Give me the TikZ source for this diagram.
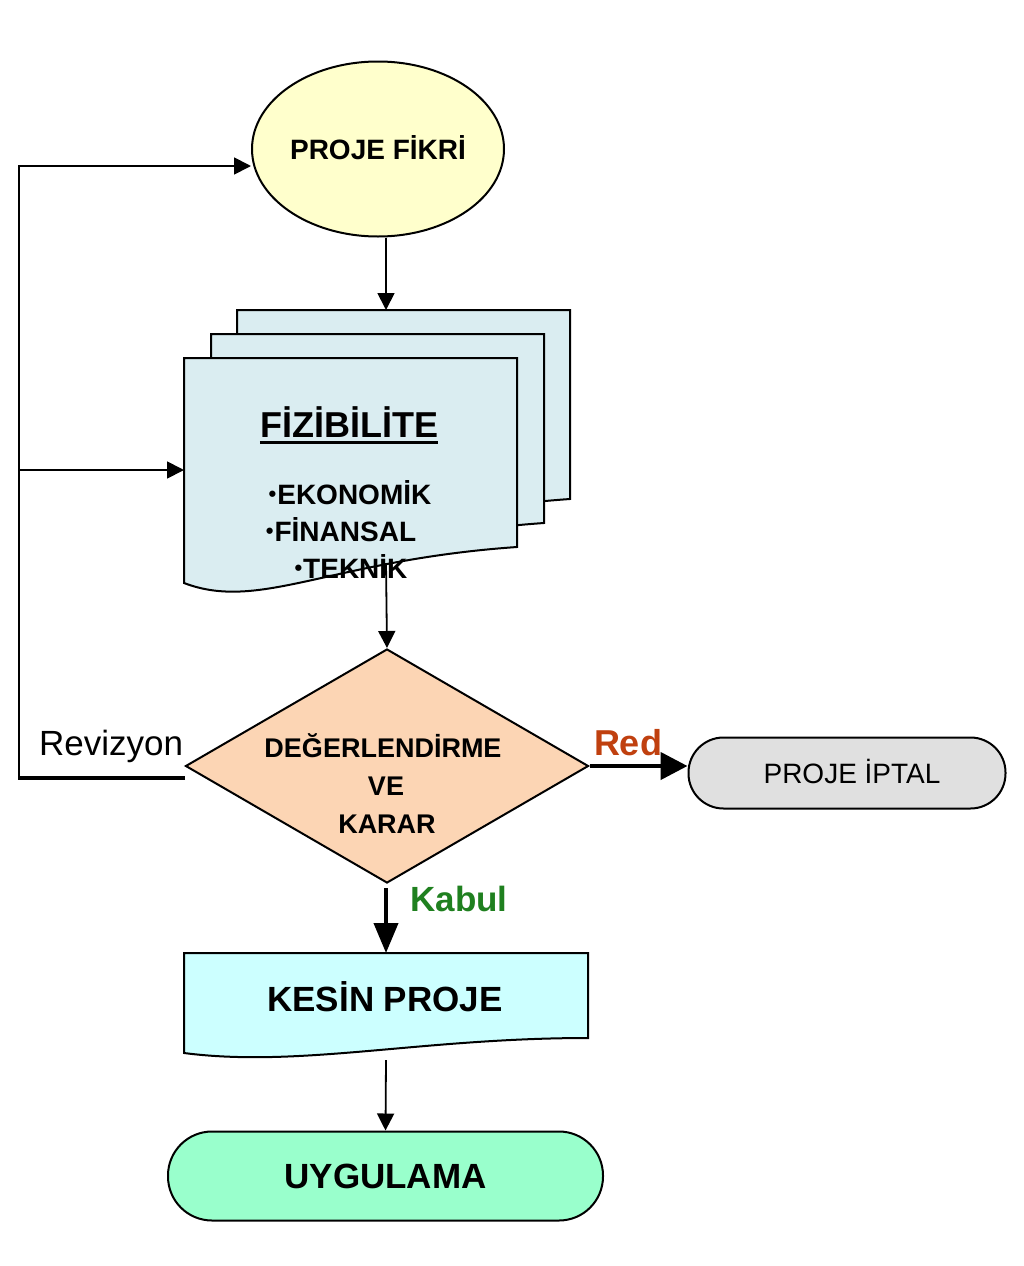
\documentclass[tikz,border=0pt]{standalone}
\usepackage{fontspec}
\setmainfont{Liberation Sans}
\usetikzlibrary{shapes.geometric,arrows.meta}
\definecolor{ideacol}{HTML}{FFFFCC}
\definecolor{pagecol}{HTML}{DAEDF1}
\definecolor{deccol}{HTML}{FCD5B4}
\definecolor{iptalcol}{HTML}{E0E0E0}
\definecolor{kesincol}{HTML}{CCFFFF}
\definecolor{uygcol}{HTML}{99FFCC}
\definecolor{redcol}{HTML}{C0400F}
\definecolor{kabulcol}{HTML}{1F801F}
\newcommand{\smbul}{\raisebox{3pt}{\fontsize{22}{22}\selectfont•}\hspace{1pt}}
\begin{document}
\begin{tikzpicture}[x=1pt,y=-1pt,
  conn/.style={line width=1.8pt},
  arr/.style={conn,-{Triangle[length=17pt,width=17pt]}},
  bigarr/.style={line width=4.5pt,-{Triangle[length=27pt,width=27pt]}},
  outl/.style={draw=black,line width=2pt},
  lbl/.style={inner sep=0pt,anchor=base},
  bf/.style={font=\fontsize{#1}{#1}\selectfont\bfseries},
  rg/.style={font=\fontsize{#1}{#1}\selectfont},
]
\fill[white] (0,0) rectangle (1024,1266);
\useasboundingbox (0,0) rectangle (1024,1266);

% PROJE FIKRI
\node[ellipse, outl, fill=ideacol, minimum width=252pt, minimum height=175pt,
      inner sep=0pt, bf=28, text height=20pt, text depth=0pt] (idea) at (378,149) {PROJE FİKRİ};

% stacked documents
\foreach \dx/\dy in {53/-48, 27/-24, 0/0}{
  \begin{scope}[shift={(\dx,\dy)}]
    \path[outl, fill=pagecol] (184,358) -- (517,358) -- (517,547)
      .. controls (330,560) and (260,612) .. (184,583) -- cycle;
  \end{scope}
}
\coordinate (fztop) at (386,310);
\coordinate (fzin) at (184,470);
\coordinate (fzbot) at (386,563);
\node[lbl, bf=36] (fzt) at (349,437) {FİZİBİLİTE};
\draw[line width=3pt] ([yshift=-5pt]fzt.base west) -- ([yshift=-5pt]fzt.base east);
\node[lbl, bf=28] (b1) at (350,504) {\smbul EKONOMİK};
\node[lbl, bf=28] (b2) at (341,541) {\smbul FİNANSAL};
\node[lbl, bf=28] (b3) at (351,578) {\smbul TEKNİK};

% decision diamond
\node[diamond, outl, fill=deccol, minimum width=403pt, minimum height=234pt, inner sep=0pt] (dec) at (387,766) {};
\node[lbl, bf=27] (d1) at (383,757) {DEĞERLENDİRME};
\node[lbl, bf=27] (d2) at (386,795) {VE};
\node[lbl, bf=27] (d3) at (387,833) {KARAR};

% PROJE IPTAL
\node[rectangle, rounded corners=35pt, outl, fill=iptalcol, minimum width=317pt, minimum height=71pt,
      inner sep=0pt, rg=28, text height=20pt, text depth=0pt] (iptal) at (847,773) {\hspace*{10pt}PROJE İPTAL};

% KESIN PROJE
\path[outl, fill=kesincol] (184,953) -- (588,953) -- (588,1038)
  .. controls (420,1038) and (300,1068) .. (184,1053) -- cycle;
\coordinate (kstop) at (386,953);
\coordinate (ksbot) at (386,1060);
\node[lbl, bf=35] (kesin) at (385,1011) {KESİN PROJE};

% UYGULAMA
\node[rectangle, rounded corners=44pt, outl, fill=uygcol, minimum width=435pt, minimum height=89pt,
      inner sep=0pt, bf=35, text height=25pt, text depth=0pt] (uyg) at (385.5,1176) {UYGULAMA};

% labels
\node[lbl, rg=35, anchor=base west] (rev) at (39,755) {Revizyon};
\node[lbl, bf=36, text=redcol] (red) at (628,755) {Red};
\node[lbl, bf=35, text=kabulcol] (kabul) at (459,911) {Kabul};

% connectors
\draw[arr] (idea.south -| fztop) -- (fztop);
\draw[arr] (fzbot) -- (dec.north);
\coordinate (dbot) at (386,888);
\draw[line width=4pt,-{Triangle[length=30pt,width=24pt]}] (dbot) -- (kstop);
\draw[bigarr] (dec.east) -- (dec.east -| iptal.west);
\draw[arr] (ksbot) -- (uyg.north);

% revision loop
\coordinate (rv) at (185,778);
\coordinate (lb) at (19,778);
\coordinate (lm) at (19,470);
\coordinate (lt) at (19,166);
\draw[line width=3.5pt] (rv) -- (lb);
\draw[conn] ([yshift=-1.7pt]lb) -- (lt);
\draw[arr] ([xshift=-0.9pt]lt) -- (lt -| idea.west);
\draw[arr] (lm) -- (fzin);
\end{tikzpicture}
\end{document}
